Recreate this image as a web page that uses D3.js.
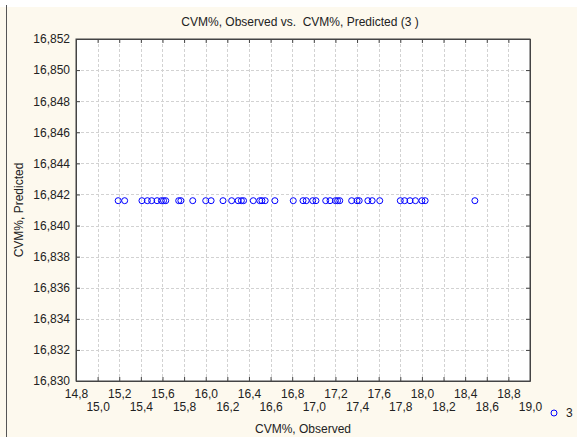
<!DOCTYPE html>
<html>
<head>
<meta charset="utf-8">
<script src="https://cdn.jsdelivr.net/npm/d3@7"></script>
<style>
  body { margin: 0; background: #fff; }
  svg { display: block; font-family: "Liberation Sans", Arial, sans-serif; }
</style>
</head>
<body>
<script>
// data
var observed = [15.19, 15.25, 15.41, 15.46, 15.50, 15.55, 15.59, 15.61, 15.63, 15.75,
                15.77, 15.88, 16.00, 16.05, 16.16, 16.24, 16.30, 16.33, 16.35, 16.44,
                16.50, 16.52, 16.55, 16.64, 16.81, 16.90, 16.93, 16.99, 17.02, 17.11,
                17.15, 17.20, 17.22, 17.24, 17.35, 17.40, 17.42, 17.50, 17.54, 17.61,
                17.80, 17.84, 17.89, 17.94, 18.00, 18.03, 18.49];
var predictedValue = 16.8416;
var xTicks = d3.range(0, 22).map(function(i) { return +(14.8 + i * 0.2).toFixed(1); });
var yTicks = d3.range(0, 12).map(function(i) { return +(16.830 + i * 0.002).toFixed(3); });
var seriesName = "3";

var W = 577, H = 437;
var margin = {top: 39, right: 47, bottom: 56, left: 76},
    width = W - margin.left - margin.right,
    height = H - margin.top - margin.bottom;

var loc = d3.formatLocale({decimal: ",", thousands: ".", grouping: [3], currency: ["", ""]});
var fx = loc.format(".1f"), fy = loc.format(".3f");

var svg = d3.select("body").append("svg")
    .attr("width", W)
    .attr("height", H);

// background
svg.append("rect").attr("width", W).attr("height", H).attr("fill", "#fdf9ee");
svg.append("rect").attr("width", W).attr("height", 7).attr("fill", "#fff");
svg.append("line")
    .attr("x1", 6.5).attr("x2", 6.5).attr("y1", 5).attr("y2", H)
    .attr("stroke", "#555").attr("stroke-width", 1);

var g = svg.append("g")
    .attr("transform", "translate(" + margin.left + "," + margin.top + ")");

var x = d3.scaleLinear().domain([14.8, 19.0]).range([0, width]);
var y = d3.scaleLinear().domain([16.830, 16.852]).range([height, 0]);

g.append("rect").attr("width", width).attr("height", height).attr("fill", "#fff");

// grid
g.append("g").selectAll("line").data(xTicks.slice(1, -1)).enter().append("line")
    .attr("x1", function(d) { return Math.round(x(d)) + 0.5; })
    .attr("x2", function(d) { return Math.round(x(d)) + 0.5; })
    .attr("y1", 0).attr("y2", height)
    .attr("stroke", "#d2d2d2").attr("stroke-dasharray", "3,2");
g.append("g").selectAll("line").data(yTicks.slice(1, -1)).enter().append("line")
    .attr("y1", function(d) { return Math.round(y(d)) + 0.5; })
    .attr("y2", function(d) { return Math.round(y(d)) + 0.5; })
    .attr("x1", 0).attr("x2", width)
    .attr("stroke", "#d2d2d2").attr("stroke-dasharray", "3,2");

// axes, ticks pointing inward
var xAxis = g.append("g")
    .attr("transform", "translate(0," + height + ")")
    .call(d3.axisBottom(x).tickValues(xTicks).tickFormat(fx).tickSizeInner(-4).tickSizeOuter(0).tickPadding(0));
xAxis.selectAll("text")
    .attr("y", function(d, i) { return i % 2 === 0 ? 8 : 21; })
    .attr("dy", "0.71em");
g.append("g")
    .call(d3.axisLeft(y).tickValues(yTicks).tickFormat(fy).tickSizeInner(-4).tickSizeOuter(0).tickPadding(6));
g.append("g")
    .call(d3.axisTop(x).tickValues(xTicks).tickFormat("").tickSizeInner(-4).tickSizeOuter(0));
g.append("g")
    .attr("transform", "translate(" + width + ",0)")
    .call(d3.axisRight(y).tickValues(yTicks).tickFormat("").tickSizeInner(-4).tickSizeOuter(0));

g.selectAll(".domain").attr("stroke", "#444");
g.selectAll(".tick line").attr("stroke", "#444");
g.selectAll(".tick text").attr("font-size", 12).attr("fill", "#222")
    .attr("font-family", "Liberation Sans, Arial, sans-serif");

// border
g.append("rect").attr("width", width).attr("height", height)
    .attr("fill", "none").attr("stroke", "#444");

// points
g.append("g").selectAll("circle").data(observed).enter().append("circle")
    .attr("cx", function(d) { return x(d); })
    .attr("cy", y(predictedValue))
    .attr("r", 3)
    .attr("fill", "none")
    .attr("stroke", "#0000ff");

// titles
svg.append("text")
    .attr("x", 300).attr("y", 26)
    .attr("text-anchor", "middle").attr("font-size", 12).attr("fill", "#222")
    .style("white-space", "pre")
    .text("CVM%, Observed vs.  CVM%, Predicted (3 )");
svg.append("text")
    .attr("x", margin.left + width / 2).attr("y", 433)
    .attr("text-anchor", "middle").attr("font-size", 12).attr("fill", "#222")
    .text("CVM%, Observed");
svg.append("text")
    .attr("transform", "translate(23," + (margin.top + height / 2) + ") rotate(-90)")
    .attr("text-anchor", "middle").attr("font-size", 12).attr("fill", "#222")
    .text("CVM%, Predicted");

// legend
svg.append("circle").attr("cx", 554).attr("cy", 413).attr("r", 3)
    .attr("fill", "none").attr("stroke", "#0000ff");
svg.append("text").attr("x", 566).attr("y", 417)
    .attr("font-size", 12).attr("fill", "#222").text(seriesName);
</script>
</body>
</html>
